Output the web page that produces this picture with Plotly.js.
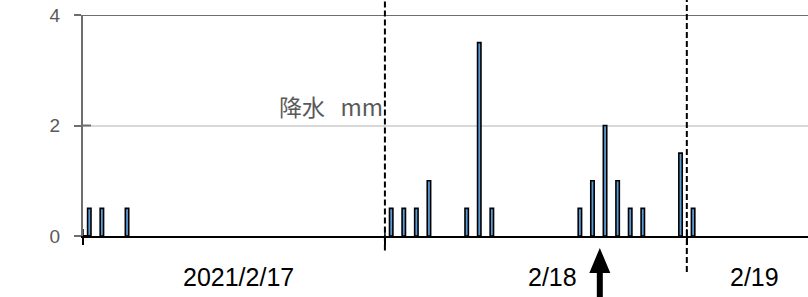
<!DOCTYPE html>
<html>
<head>
<meta charset="utf-8">
<script src="https://cdn.plot.ly/plotly-3.0.1.min.js"></script>
<style>html,body{margin:0;padding:0;background:#fff;}#chart{width:808px;height:297px;}</style>
</head>
<body>
<div id="chart"></div>
<script>
// Hourly precipitation (mm), bars centred on the half hour
const times = [
  '2021-02-17 00:30', '2021-02-17 01:30', '2021-02-17 03:30',
  '2021-02-18 00:30', '2021-02-18 01:30', '2021-02-18 02:30', '2021-02-18 03:30',
  '2021-02-18 06:30', '2021-02-18 07:30', '2021-02-18 08:30',
  '2021-02-18 15:30', '2021-02-18 16:30', '2021-02-18 17:30', '2021-02-18 18:30',
  '2021-02-18 19:30', '2021-02-18 20:30', '2021-02-18 23:30',
  '2021-02-19 00:30'
];
const precip = [
  0.5, 0.5, 0.5,
  0.5, 0.5, 0.5, 1.0,
  0.5, 3.5, 0.5,
  0.5, 1.0, 2.0, 1.0,
  0.5, 0.5, 1.5,
  0.5
];
const dayTicks = ['2021-02-17 00:00', '2021-02-18 00:00', '2021-02-19 00:00'];
const dayLabels = ['2021/2/17', '2/18', '2/19'];
const dayLabelPos = ['2021-02-17 12:24', '2021-02-18 13:17', '2021-02-19 05:25'];
const dividers = ['2021-02-18 00:00', '2021-02-19 00:00'];
const arrowTime = '2021-02-18 17:05';
const yTicks = [0, 2, 4];
const yLabel = '降水\u00a0\u00a0\u00a0mm';

const xStart = '2021-02-17 00:00';
const xEnd = '2021-02-19 09:38';

const shapes = [];
// dark top line at y=4
shapes.push({type:'line', xref:'paper', yref:'y', x0:0, x1:1, y0:4, y1:4, line:{color:'#6e6e6e', width:2}});
// inside part of y cross ticks
yTicks.forEach(v => shapes.push({type:'line', xref:'x', yref:'y', xsizemode:'pixel', xanchor:xStart,
  x0:0, x1:8, y0:v, y1:v, line:{color: v===0 ? '#000' : '#6e6e6e', width:2}}));
// inside part of x cross ticks
dayTicks.forEach(t => shapes.push({type:'line', xref:'x', yref:'y', ysizemode:'pixel', yanchor:0,
  x0:t, x1:t, y0:0, y1:7, line:{color:'#000', width:1.5}}));
// dashed day dividers
shapes.push({type:'line', xref:'x', yref:'paper', x0:dividers[0], x1:dividers[0], y0:-0.066, y1:1.08,
  line:{color:'#000', width:2, dash:'6px,3px'}});
shapes.push({type:'line', xref:'x', yref:'paper', x0:dividers[1], x1:dividers[1], y0:-0.163, y1:1.08,
  line:{color:'#000', width:2, dash:'6px,3px'}});
// up arrow
shapes.push({type:'path', xref:'x', yref:'paper', xsizemode:'pixel', ysizemode:'pixel', xanchor:arrowTime, yanchor:-0.054,
  path:'M 0 0 L 10.5 -25 L 3 -25 L 3 -60 L -3 -60 L -3 -25 L -10.5 -25 Z',
  fillcolor:'#000', line:{width:0}});

const annotations = dayLabels.map((t, i) => ({
  text: t, x: dayLabelPos[i], xref:'x', y: -0.186, yref:'paper', showarrow:false,
  xanchor:'center', yanchor:'middle', font:{family:'Liberation Sans, Arial, sans-serif', size:25, color:'#000'}
}));
annotations.push({text: yLabel, x: dividers[0], xref:'x', y: 2.35, yref:'y', showarrow:false,
  xanchor:'right', yanchor:'middle', font:{family:'Noto Sans CJK JP, sans-serif', size:23, color:'#595959'}});

const trace = {
  type:'bar', x: times, y: precip,
  width: 0.27 * 3600000,
  marker:{color:'#5b9bd5', line:{color:'#000', width:1.6}},
  hoverinfo:'x+y'
};

const layout = {
  width:808, height:297,
  margin:{l:83, r:0, t:15, b:61},
  paper_bgcolor:'#fff', plot_bgcolor:'#fff',
  showlegend:false,
  xaxis:{type:'date', range:[xStart, xEnd], tickvals: dayTicks, showticklabels:false,
    ticks:'outside', ticklen:7, tickwidth:1.5, tickcolor:'#000',
    showline:true, linecolor:'#000', linewidth:2, showgrid:false, zeroline:false},
  yaxis:{range:[0,4], tickvals: yTicks, ticks:'outside', ticklen:7, tickwidth:2, tickcolor:'#6e6e6e',
    showline:true, linecolor:'#6e6e6e', linewidth:2, showgrid:true, gridcolor:'#d9d9d9', gridwidth:2,
    zeroline:false, ticklabelstandoff:10,
    tickfont:{family:'Liberation Sans, Arial, sans-serif', size:19, color:'#595959'}},
  shapes: shapes,
  annotations: annotations
};

Plotly.newPlot('chart', [trace], layout, {staticPlot:true, displayModeBar:false});
</script>
</body>
</html>
